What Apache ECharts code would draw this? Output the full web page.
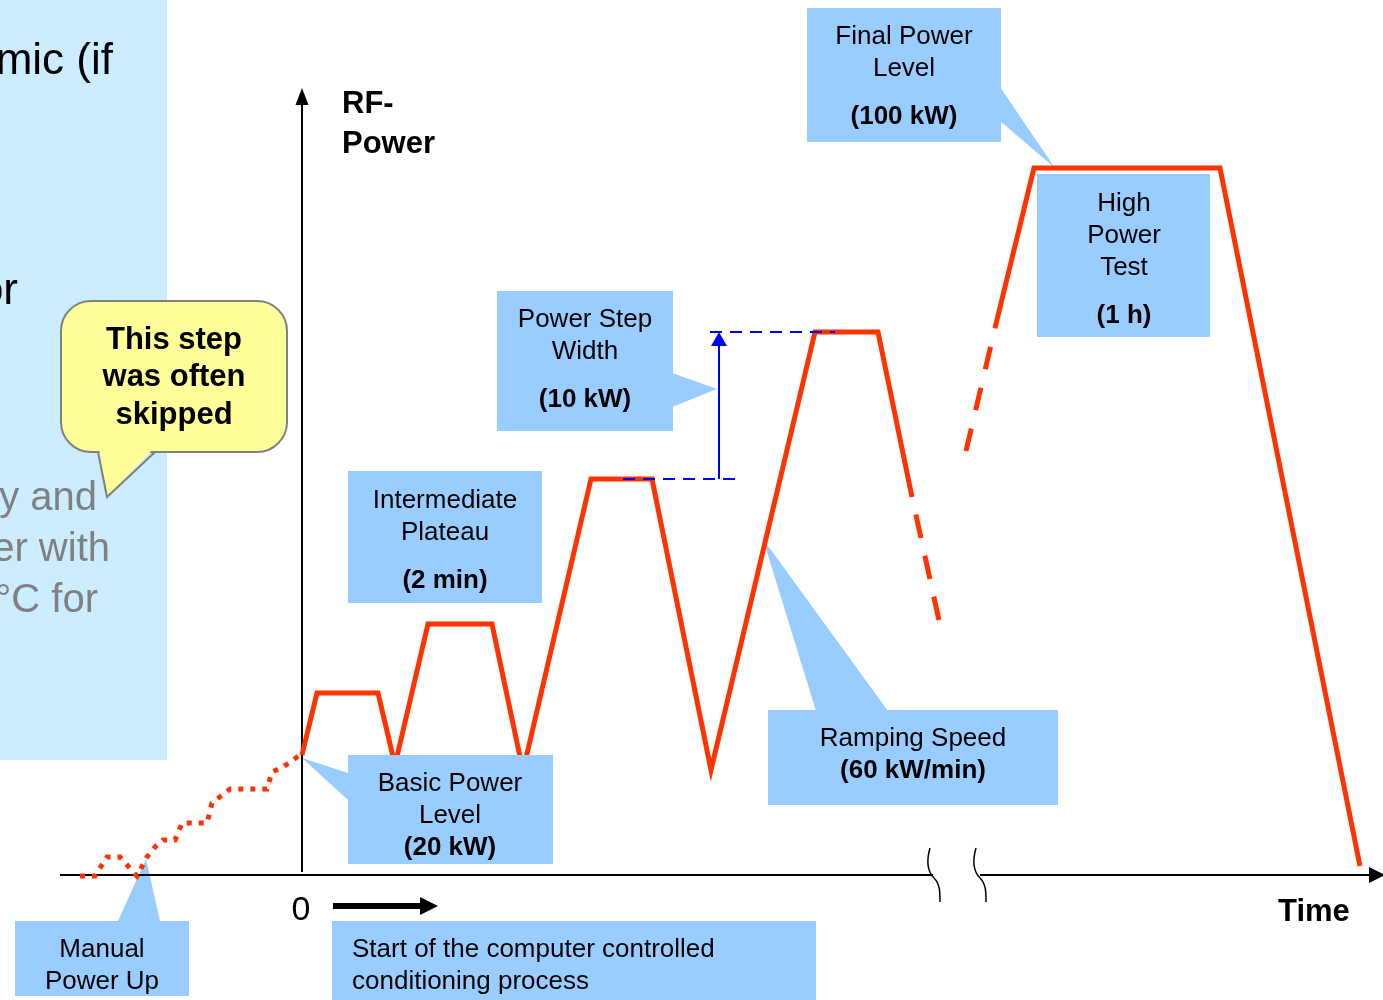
<!DOCTYPE html>
<html><head><meta charset="utf-8">
<script src="https://cdn.jsdelivr.net/npm/echarts@6/dist/echarts.min.js"></script>
<style>html,body{margin:0;padding:0;background:#fff}#c{width:1383px;height:1000px}</style>
</head><body><div id="c"></div>
<script>
// Schematic units: x = time (0 = start of the computer controlled process), y = RF power (0 = time axis)
const manualPowerUp = [[-222,-1],[-207,-1],[-195,18],[-182,18],[-165,-1],[-155,18],[-147,28],[-139,35],[-127,35],[-120,52],[-95,52],[-90,72],[-72,86],[-35,86],[-30,103],[-19,108],[-2,120]];
const conditioningSteps = [[0,120],[15,182],[76,182],[93,110],[126,251],[190,251],[221,104],[289,396],[350,396],[409,105],[513,543],[576,543],[610,378]];
const skippedDescent = [[610,378],[638,250]];
const skippedAscent = [[664,424],[693,547]];
const highPowerTest = [[693,547],[732,707],[918,707],[1058,9]];
const stepLower = [[321,396],[435,396]];
const stepUpper = [[408,543],[533,543]];
const stepArrow = [[417,396],[417,536]];
const axisBreaks = [628, 674];

const RED = '#ff3300', BLUE_BOX = '#99ccff', FONT = '"Liberation Sans", Arial, sans-serif';

function arrowData(arr, size, rot){
  return arr.map((p,i)=> i===arr.length-1
    ? {value:p, symbol:'triangle', symbolSize:size, symbolRotate:rot||0}
    : {value:p, symbol:'none'});
}
function lineSeries(data, color, width, type, extra){
  return Object.assign({type:'line', data:data, symbol:'none', showSymbol:true, z:2,
    lineStyle:{color:color, width:width, type:type, cap:'butt', join:'miter'},
    itemStyle:{color:color}, silent:true, animation:false}, extra||{});
}

const chart = echarts.init(document.getElementById('c'));
chart.setOption({
  animation:false,
  grid:{left:0,right:0,top:0,bottom:0},
  xAxis:{type:'value',min:-302,max:1081,show:false},
  yAxis:{type:'value',min:-125,max:875,show:false},
  series:[
    // axes
    lineSeries(arrowData([[0,3],[0,778.5]],[13,17]), '#000', 2, 'solid'),
    lineSeries([[-242,0],[631,0]], '#000', 2, 'solid'),
    lineSeries(arrowData([[678,0],[1075,0]],[16,16],-90), '#000', 2, 'solid'),
    lineSeries(arrowData([[31,-31],[127,-31]],[18,18],-90), '#000', 6, 'solid'),
    // power profile
    lineSeries(manualPowerUp, RED, 5, [5,7]),
    lineSeries(conditioningSteps, RED, 5, 'solid'),
    lineSeries(skippedDescent, RED, 5, [24,18], {lineStyle:{color:RED,width:5,type:[24,18],dashOffset:24,cap:'butt'}}),
    lineSeries(skippedAscent, RED, 5, [23,19]),
    lineSeries(highPowerTest, RED, 5, 'solid'),
    // power step width
    lineSeries(stepLower, '#0000ff', 2, [12,8]),
    lineSeries(stepUpper, '#0000ff', 2, [12,8]),
    lineSeries(arrowData(stepArrow,[16,14]), '#0000ff', 2, 'solid')
  ]
});

const P = (x,y) => chart.convertToPixel({gridIndex:0},[x,y]);
const g = [];
function box(x1,y1,x2,y2,fill,z){
  const a=P(x1,y1), b=P(x2,y2);
  g.push({type:'rect', z:z||1, shape:{x:Math.min(a[0],b[0]), y:Math.min(a[1],b[1]), width:Math.abs(b[0]-a[0]), height:Math.abs(b[1]-a[1])}, style:{fill:fill}});
}
function poly(pts,fill,z){
  g.push({type:'polygon', z:z||1, shape:{points:pts.map(p=>P(p[0],p[1]))}, style:{fill:fill}});
}
function txt(x,y,s,opt){
  opt=opt||{};
  const p=P(x,y-2.5);
  const f=(opt.bold?'bold ':'normal ')+(opt.size||26)+'px '+FONT;
  g.push({type:'text', z:10, x:p[0], y:p[1], style:{text:s, font:f, fill:opt.color||'#000',
    align:opt.align||'center', verticalAlign:'middle', textAlign:opt.align||'center', textVerticalAlign:'middle'}});
}

// left slide panel
box(-302,875,-135,115,'#ccecff',0);
txt(-189,816,'mic (if',{size:44,align:'right'});
txt(-284,586,'or',{size:44,align:'right'});
txt(-205,379,'y and',{size:40,align:'right',color:'#808080'});
txt(-192,328,'er with',{size:40,align:'right',color:'#808080'});
txt(-204,277,'\u00b0C for',{size:40,align:'right',color:'#808080'});

// speech bubble
(function(){
  const a=P(-241,574), b=P(-15,423);
  g.push({type:'rect', z:3, shape:{x:a[0],y:a[1],width:b[0]-a[0],height:b[1]-a[1],r:30}, style:{fill:'#ffff99',stroke:'#808080',lineWidth:2}});
  g.push({type:'polygon', z:4, shape:{points:[P(-203,427),P(-195,378),P(-148,427)]}, style:{fill:'#ffff99'}});
  g.push({type:'polyline', z:4, shape:{points:[P(-204,423),P(-195,378),P(-147,423)]}, style:{stroke:'#808080',lineWidth:2,fill:null}});
})();
txt(-128,537,'This step',{bold:true,size:31});
txt(-128,500,'was often',{bold:true,size:31});
txt(-128,462,'skipped',{bold:true,size:31});

// axis titles
txt(40,773,'RF-',{bold:true,size:31,align:'left'});
txt(40,733,'Power',{bold:true,size:31,align:'left'});
txt(976,-35,'Time',{bold:true,size:31,align:'left'});
txt(-1,-33,'0',{size:34});

// axis breaks (two bezier pieces each)
axisBreaks.forEach(bx=>{
  const p=(dx,dy)=>P(bx+dx,dy);
  const s=p(0,27), c1=p(-4,13), c2=p(-2,3), m=p(4,-3), c3=p(10,-9), c4=p(10,-17), e=p(10,-27);
  g.push({type:'bezierCurve', z:5, shape:{x1:s[0],y1:s[1],cpx1:c1[0],cpy1:c1[1],cpx2:c2[0],cpy2:c2[1],x2:m[0],y2:m[1]}, style:{stroke:'#000',lineWidth:1.5,fill:null}});
  g.push({type:'bezierCurve', z:5, shape:{x1:m[0],y1:m[1],cpx1:c3[0],cpy1:c3[1],cpx2:c4[0],cpy2:c4[1],x2:e[0],y2:e[1]}, style:{stroke:'#000',lineWidth:1.5,fill:null}});
});

// callouts
box(-287,-46,-113,-121,BLUE_BOX); poly([[-184,-46],[-142,-46],[-156,16]],BLUE_BOX);
txt(-200,-72,'Manual'); txt(-200,-104,'Power Up');

box(46,120,251,11,BLUE_BOX,5); poly([[46,102],[46,75],[0,117]],BLUE_BOX,1);
txt(148,94,'Basic Power'); txt(148,62,'Level'); txt(148,30,'(20 kW)',{bold:true});

box(46,404,240,272,BLUE_BOX);
txt(143,377,'Intermediate'); txt(143,345,'Plateau'); txt(143,297,'(2 min)',{bold:true});

box(195,584,371,444,BLUE_BOX); poly([[370,502],[370,468],[415,486]],BLUE_BOX);
txt(283,558,'Power Step'); txt(283,526,'Width'); txt(283,478,'(10 kW)',{bold:true});

box(505,867,699,733,BLUE_BOX); poly([[698,788],[698,754],[753,707]],BLUE_BOX);
txt(602,841,'Final Power'); txt(602,809,'Level'); txt(602,761,'(100 kW)',{bold:true});

box(735,701,908,538,BLUE_BOX);
txt(822,674,'High'); txt(822,642,'Power'); txt(822,610,'Test'); txt(822,562,'(1 h)',{bold:true});

box(466,165,756,70,BLUE_BOX); poly([[514,164],[586,164],[461,336]],BLUE_BOX);
txt(611,139,'Ramping Speed'); txt(611,107,'(60 kW/min)',{bold:true});

box(30,-46,514,-125,BLUE_BOX);
txt(50,-72,'Start of the computer controlled',{align:'left'});
txt(50,-104,'conditioning process',{align:'left'});

chart.setOption({graphic:{elements:g}});
</script></body></html>
